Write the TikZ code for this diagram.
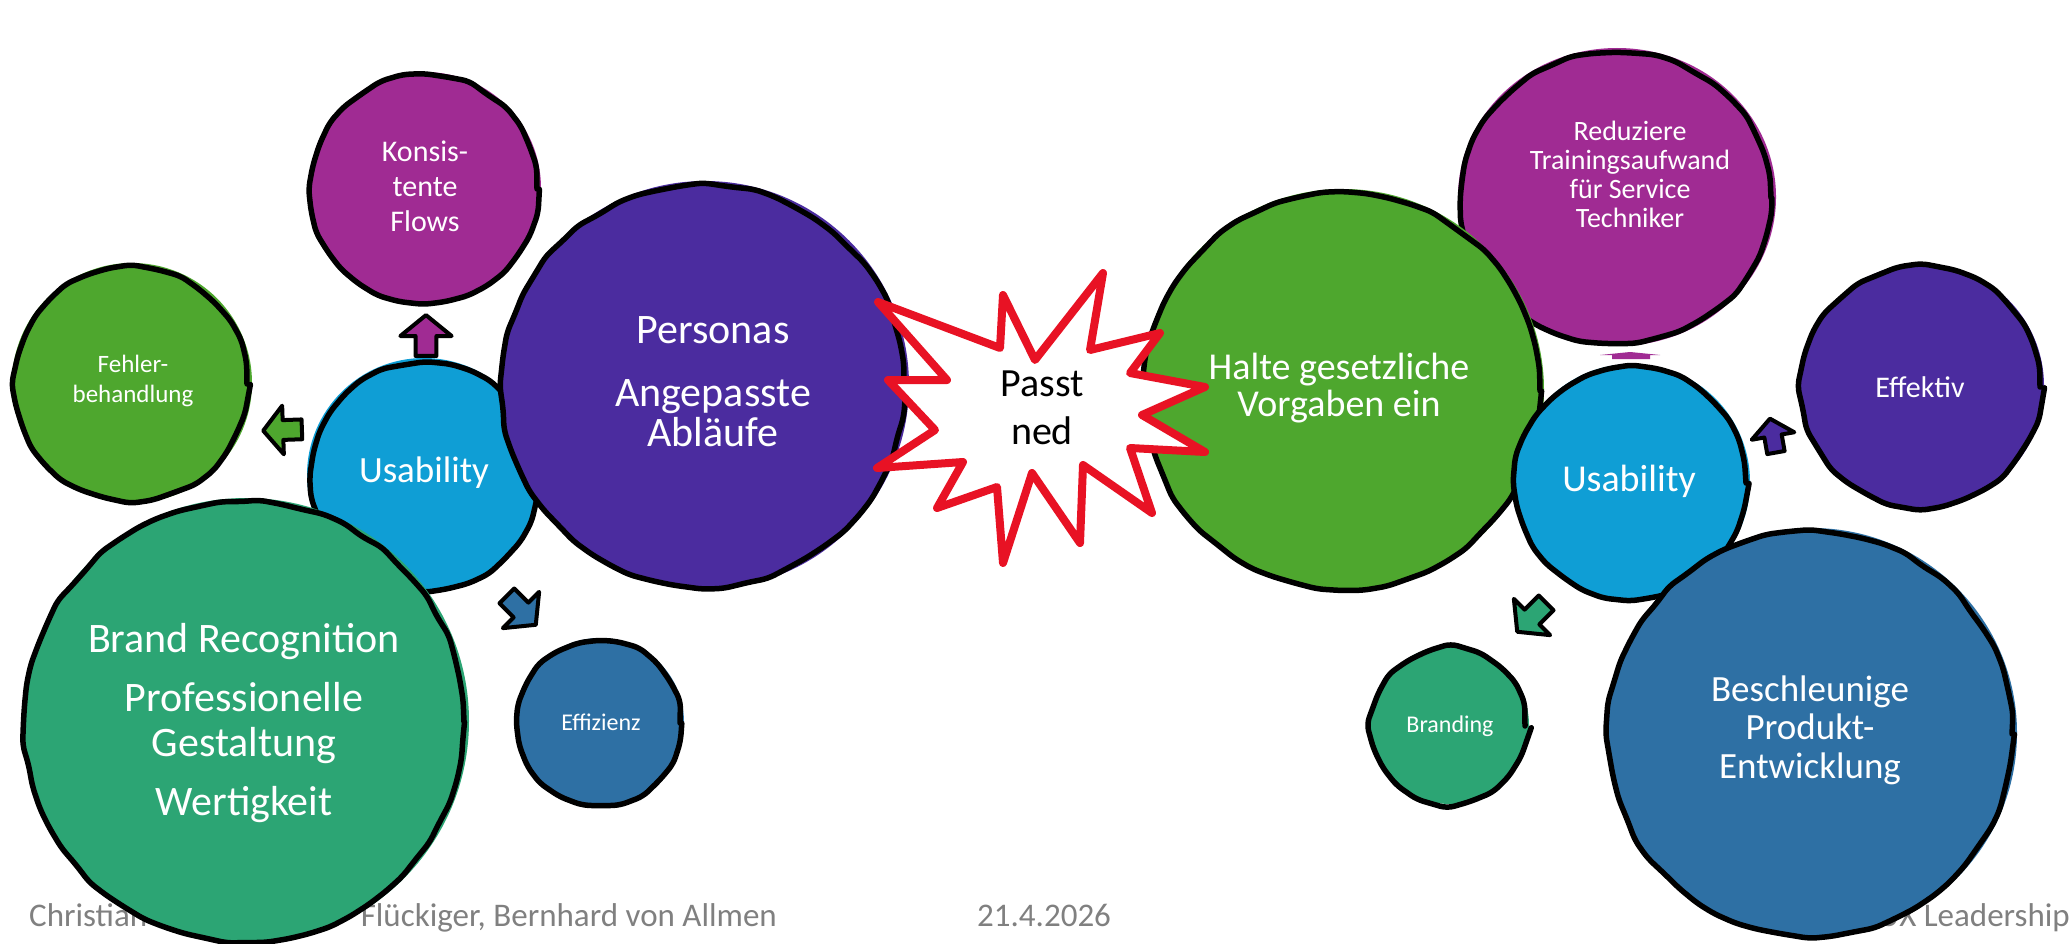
\documentclass[tikz,border=0pt]{standalone}
\usepackage{fontspec}
\setmainfont{Carlito}
\usetikzlibrary{decorations.pathmorphing,shapes.geometric}
\definecolor{cMag}{HTML}{A02B93}
\definecolor{cGreen}{HTML}{4EA72E}
\definecolor{cCyan}{HTML}{0F9ED5}
\definecolor{cPurple}{HTML}{4B2C9F}
\definecolor{cBlue}{HTML}{2E70A4}
\definecolor{cTeal}{HTML}{2CA574}
\definecolor{cRed}{HTML}{E81224}
\definecolor{cGray}{HTML}{808080}
\tikzset{
  blob/.style={circle, inner sep=0pt, fill=#1, draw=none},
  sketch/.style={draw=black, line width=5.5pt, line join=round, line cap=round,
    decorate, decoration={random steps, segment length=22pt, amplitude=1.6pt}, rounded corners=7pt},
  lbl/.style={text=white, align=center, inner sep=0pt},
  foot/.style={text=cGray, font=\fontsize{33}{36}\selectfont, anchor=base west, inner sep=0pt},
  pics/barrow/.style={code={
    \filldraw[fill=#1, draw=black, line width=4pt, line join=round]
      (-21,-11) -- (0,-11) -- (0,-27) -- (22,0) -- (0,27) -- (0,11) -- (-21,11) -- cycle;}},
}
\begin{document}
\begin{tikzpicture}[x=1pt,y=-1pt]
\pgfmathsetseed{7}
\useasboundingbox (0,0) rectangle (2071,944);
\fill[white] (0,0) rectangle (2071,944);

% footer (behind the circles)
\node[foot] (f1) at (29,926) {Christian};
\node[foot, anchor=base east] (f2) at (777,926) {Flückiger, Bernhard von Allmen};
\node[foot] (f3) at (977,926) {21.4.2026};
\node[foot, anchor=base east] (f4) at (2070,926) {UX Leadership};

% ---------------- left group ----------------
\node[blob=cGreen, minimum size=240pt] (fehler) at (132,383) {};
\draw[sketch] ([shift={(-1,1)}]fehler.center) circle[radius=116pt];
\node[lbl, font=\fontsize{25}{30}\selectfont] (tFehler) at (133,381) {Fehler-\\behandlung};

\node[blob=cMag, minimum size=232pt] (kons) at (425,188) {};
\draw[sketch] ([shift={(-1,1)}]kons.center) circle[radius=113pt];
\node[lbl, font=\fontsize{30}{35}\selectfont] (tKons) at (425,186) {Konsis-\\tente\\Flows};

\node[blob=cCyan, minimum size=234pt] (usabL) at (424,475) {};
\draw[sketch] ([shift={(1,2)}]usabL.center) circle[radius=113pt];
\node[lbl, font=\fontsize{37}{40}\selectfont] (tUsabL) at (424,473) {Usability};

\node[blob=cPurple, minimum size=408pt] (pers) at (705,385) {};
\draw[sketch] ([shift={(-2,1)}]pers.center) circle[radius=201pt];
\node[lbl, font=\fontsize{42}{40}\selectfont] (tPers) at (713,382) {Personas\\[23pt]Angepasste\\Abläufe};

\node[blob=cTeal, minimum size=446pt] (brand) at (246,721) {};
\draw[sketch] ([shift={(-2,1)}]brand.center) circle[radius=220pt];
\node[lbl, font=\fontsize{42}{45}\selectfont] (tBrand) at (244,723) {Brand Recognition\\[14pt]Professionelle\\Gestaltung\\[14pt]Wertigkeit};

\node[blob=cBlue, minimum size=168pt] (effiz) at (600,722) {};
\draw[sketch] ([shift={(-1,1)}]effiz.center) circle[radius=81pt];
\node[lbl, font=\fontsize{24}{28}\selectfont] (tEffiz) at (601,722) {Effizienz};

\pic[rotate=90, scale=0.95] (arrKons) at (426,336) {barrow=cMag};
\pic[rotate=182, scale=0.9] (arrFehler) at (283,430) {barrow=cGreen};
\pic[rotate=-45, scale=0.95] (arrEffiz) at (521,610) {barrow=cBlue};

% ---------------- right group ----------------
\node[ellipse, inner sep=0pt, fill=cMag, minimum width=318pt, minimum height=298pt] (reduz) at (1617,197) {};
\draw[sketch] ([shift={(-1,1)}]reduz.center) ellipse[x radius=155pt, y radius=145pt];
\node[lbl, font=\fontsize{28}{29}\selectfont] (tReduz) at (1630,174) {Reduziere\\Trainingsaufwand\\für Service\\Techniker};

\node[blob=cGreen, minimum size=402pt] (halte) at (1343,390) {};
\draw[sketch] ([shift={(-1,1)}]halte.center) circle[radius=198pt];
\node[lbl, font=\fontsize{38}{37}\selectfont] (tHalte) at (1339,388) {Halte gesetzliche\\Vorgaben ein};

\node[blob=cCyan, minimum size=236pt] (usabR) at (1632,482) {};
\draw[sketch] ([shift={(-1,1)}]usabR.center) circle[radius=115pt];
\node[lbl, font=\fontsize{38}{40}\selectfont] (tUsabR) at (1629,481) {Usability};

\node[blob=cBlue, minimum size=410pt] (beschl) at (1812,733) {};
\draw[sketch] ([shift={(-2,1)}]beschl.center) circle[radius=202pt];
\node[lbl, font=\fontsize{37}{38.5}\selectfont] (tBeschl) at (1810,730) {Beschleunige\\Produkt-\\Entwicklung};

\node[blob=cPurple, minimum size=244pt] (effekt) at (1922,386) {};
\draw[sketch] ([shift={(-1,1)}]effekt.center) circle[radius=119pt];
\node[lbl, font=\fontsize{30}{32}\selectfont] (tEffekt) at (1920,387) {Effektiv};

\node[blob=cTeal, minimum size=158pt] (brandg) at (1450,725) {};
\draw[sketch] ([shift={(-1,1)}]brandg.center) circle[radius=76pt];
\node[lbl, font=\fontsize{24}{28}\selectfont] (tBrandg) at (1450,726) {Branding};

\fill[cMag] (1600,355) -- (1630,352) -- (1660,355) -- (1650,355) -- (1650,359) -- (1612,359) -- (1612,355) -- cycle;
\pic[rotate=100, scale=0.8] (arrEffekt) at (1773,436) {barrow=cPurple};
\pic[rotate=-135, scale=0.95] (arrBrandg) at (1532,617) {barrow=cTeal};

% ---------------- starburst ----------------
\filldraw[fill=white, draw=cRed, line width=8pt, line join=round]
  (1103,273) -- (1090,350) -- (1160,333) -- (1130,373) -- (1205,387) -- (1142,415)
  -- (1205,452) -- (1130,448) -- (1152,513) -- (1083,465) -- (1080,543) -- (1032,473)
  -- (1003,563) -- (997,487) -- (937,508) -- (963,462) -- (877,468) -- (935,430)
  -- (888,380) -- (947,380) -- (878,302) -- (1000,348) -- (1003,295) -- (1035,360) -- cycle;
\node[align=center, inner sep=0pt, text=black, font=\fontsize{40}{48}\selectfont] (tPasst) at (1042,408) {Passt\\ned};
\end{tikzpicture}
\end{document}
